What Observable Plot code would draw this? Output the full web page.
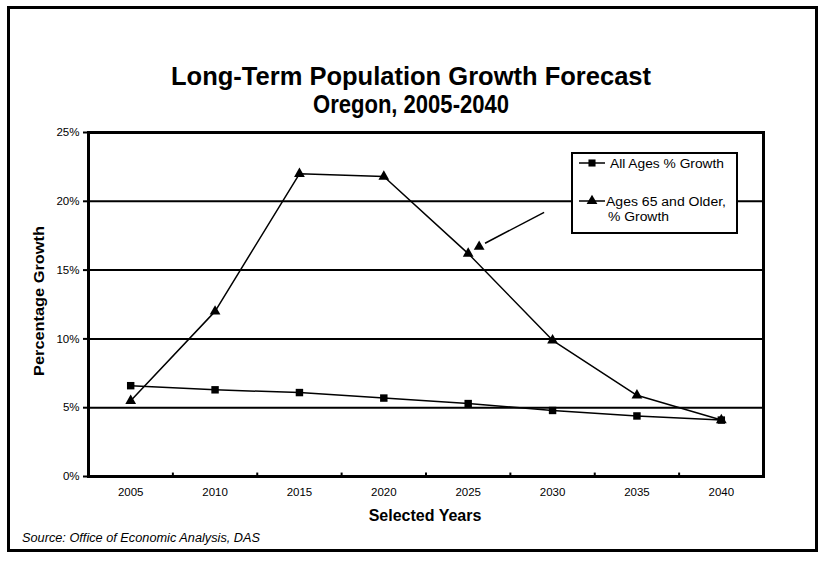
<!DOCTYPE html>
<html>
<head>
<meta charset="utf-8">
<script src="https://cdn.jsdelivr.net/npm/d3@7"></script>
<script src="https://cdn.jsdelivr.net/npm/@observablehq/plot@0.6"></script>
<style>
  html, body { margin: 0; padding: 0; background: #fff; }
  #chart { width: 822px; height: 561px; }
  svg { font-family: "Liberation Sans", Arial, sans-serif; }
</style>
</head>
<body>
<div id="chart"></div>
<script>
// ---- data ----
const years = [2005, 2010, 2015, 2020, 2025, 2030, 2035, 2040];
const allAgesGrowth = [6.6, 6.3, 6.1, 5.7, 5.3, 4.8, 4.4, 4.1];
const ages65Growth = [5.5, 12.0, 22.0, 21.8, 16.2, 9.9, 5.9, 4.1];
const yTicks = [0, 5, 10, 15, 20, 25];
const gridLines = [5, 10, 15, 20];
const seriesNames = ["All Ages % Growth", "Ages 65 and Older, % Growth"];
// annotation arrow (data units)
const arrowLine = [{x1: 2029.5, y1: 19.2, x2: 2026.0, y2: 16.95}];
const arrowHead = [{x: 2025.65, y: 16.7}];

const title1 = "Long-Term Population Growth Forecast";
const title2 = "Oregon, 2005-2040";
const yLabel = "Percentage Growth";
const xLabel = "Selected Years";
const source = "Source: Office of Economic Analysis, DAS";

const allData = years.map((y, i) => ({year: y, value: allAgesGrowth[i]}));
const oldData = years.map((y, i) => ({year: y, value: ages65Growth[i]}));
const boundaries = years.slice(0, -1).map(y => y + 2.5);

const plot = Plot.plot({
  width: 822,
  height: 561,
  marginLeft: 88,
  marginRight: 59,
  marginTop: 132,
  marginBottom: 85,
  style: {fontFamily: "Liberation Sans, Arial, sans-serif", background: "white", color: "black"},
  x: {type: "linear", domain: [2002.5, 2042.5]},
  y: {domain: [0, 25]},
  marks: [
    Plot.ruleY(gridLines, {stroke: "black", strokeWidth: 2}),
    Plot.ruleX(boundaries, {y1: 0, y2: 0.25, stroke: "black", strokeWidth: 2}),
    Plot.axisY({ticks: yTicks, tickFormat: d => d + "%", tickSize: 5, tickPadding: 4, fontSize: 11.5, label: null, strokeWidth: 2}),
    Plot.axisX({ticks: years, tickFormat: d => String(d), tickSize: 0, tickPadding: 11, fontSize: 11.5, label: null}),
    Plot.frame({stroke: "black", strokeWidth: 3}),
    Plot.line(allData, {x: "year", y: "value", stroke: "black", strokeWidth: 1.5}),
    Plot.line(oldData, {x: "year", y: "value", stroke: "black", strokeWidth: 1.5}),
    Plot.dot(allData, {x: "year", y: "value", symbol: "square", r: 4.2, fill: "black", stroke: "none"}),
    Plot.dot(oldData, {x: "year", y: "value", symbol: "triangle", r: 4, fill: "black", stroke: "none"}),
    Plot.link(arrowLine, {x1: "x1", y1: "y1", x2: "x2", y2: "y2", stroke: "black", strokeWidth: 1.5}),
    Plot.dot(arrowHead, {x: "x", y: "y", symbol: "triangle", r: 4, fill: "black", stroke: "none"})
  ]
});

document.getElementById("chart").appendChild(plot);

const svg = d3.select(plot);
// outer border
svg.append("rect").attr("x", 8.5).attr("y", 7.5).attr("width", 808).attr("height", 543)
  .attr("fill", "none").attr("stroke", "black").attr("stroke-width", 3);
// titles
svg.append("text").attr("x", 411).attr("y", 85).attr("text-anchor", "middle")
  .attr("font-size", 25).attr("font-weight", "bold")
  .attr("textLength", 480).attr("lengthAdjust", "spacingAndGlyphs").text(title1);
svg.append("text").attr("x", 411).attr("y", 113).attr("text-anchor", "middle")
  .attr("font-size", 25).attr("font-weight", "bold")
  .attr("textLength", 196).attr("lengthAdjust", "spacingAndGlyphs").text(title2);
// axis labels
svg.append("text").attr("transform", "translate(44,301) rotate(-90)").attr("text-anchor", "middle")
  .attr("font-size", 15.5).attr("font-weight", "bold")
  .attr("textLength", 150).attr("lengthAdjust", "spacingAndGlyphs").text(yLabel);
svg.append("text").attr("x", 425).attr("y", 521).attr("text-anchor", "middle")
  .attr("font-size", 16).attr("font-weight", "bold").text(xLabel);
// source
svg.append("text").attr("x", 22).attr("y", 542).attr("font-size", 12.5).attr("text-anchor", "start")
  .attr("font-style", "italic").attr("textLength", 238).attr("lengthAdjust", "spacingAndGlyphs").text(source);

// legend
const lg = svg.append("g");
lg.append("rect").attr("x", 572).attr("y", 153).attr("width", 165).attr("height", 80)
  .attr("fill", "white").attr("stroke", "black").attr("stroke-width", 2);
const entries = [
  {y: 163, sym: d3.symbolSquare, lines: [seriesNames[0]], xs: [610], lens: [114]},
  {y: 201, sym: d3.symbolTriangle, lines: ["Ages 65 and Older,", "% Growth"], xs: [606, 608], lens: [120, 61]}
];
entries.forEach(e => {
  lg.append("line").attr("x1", 579).attr("x2", 605).attr("y1", e.y).attr("y2", e.y)
    .attr("stroke", "black").attr("stroke-width", 1.5);
  lg.append("path").attr("d", d3.symbol(e.sym, Math.PI * 4 * 4)())
    .attr("transform", `translate(592,${e.y})`).attr("fill", "black");
  e.lines.forEach((t, i) => {
    lg.append("text").attr("x", e.xs[i])
      .attr("text-anchor", "start")
      .attr("y", e.y + 4.5 + i * 15).attr("font-size", 12.5)
      .attr("textLength", e.lens[i]).attr("lengthAdjust", "spacingAndGlyphs").text(t);
  });
});
</script>
</body>
</html>
